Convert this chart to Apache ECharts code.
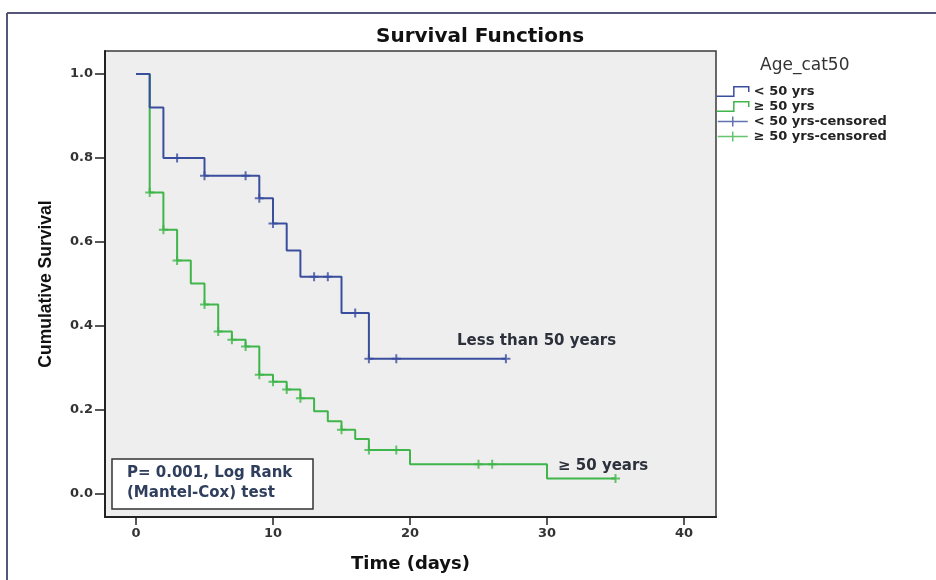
<!DOCTYPE html>
<html>
<head>
<meta charset="utf-8">
<script src="https://cdn.jsdelivr.net/npm/echarts@6/dist/echarts.min.js"></script>
<style>
  html, body { margin: 0; padding: 0; background: #ffffff; }
  #chart { width: 936px; height: 580px; }
</style>
</head>
<body>
<div id="chart"></div>
<script>
// ---------- data ----------
const seriesNames = ['< 50 yrs', '≥ 50 yrs', '< 50 yrs-censored', '≥ 50 yrs-censored'];

// Kaplan-Meier step points: < 50 yrs
const youngTimes = [0, 1, 2, 5, 9, 10, 11, 12, 15, 17, 27];
const youngSurv  = [1.0, 0.92, 0.80, 0.758, 0.704, 0.644, 0.58, 0.517, 0.431, 0.322, 0.322];
const youngCensorTimes = [3, 5, 8, 9, 10, 13, 14, 16, 17, 19, 27];

// Kaplan-Meier step points: >= 50 yrs
const oldTimes = [0, 1, 2, 3, 4, 5, 6, 7, 8, 9, 10, 11, 12, 13, 14, 15, 16, 17, 20, 30, 35];
const oldSurv  = [1.0, 0.718, 0.629, 0.556, 0.501, 0.451, 0.387, 0.367, 0.351, 0.284, 0.267, 0.249, 0.228, 0.197, 0.173, 0.153, 0.131, 0.105, 0.071, 0.037, 0.037];
const oldCensorTimes = [1, 2, 3, 5, 6, 7, 8, 9, 10, 11, 12, 15, 17, 19, 25, 26, 35];

const xTicks = [0, 10, 20, 30, 40];
const yTicks = [0, 0.2, 0.4, 0.6, 0.8, 1.0];

const titleText = 'Survival Functions';
const xName = 'Time (days)';
const yName = 'Cumulative Survival';
const legendTitle = 'Age_cat50';
const youngLabel = 'Less than 50 years';
const oldLabel = '≥ 50 years';
const pLines = ['P= 0.001, Log Rank', '(Mantel-Cox) test'];

// ---------- helpers ----------
function survAt(times, surv, t) {
  let v = surv[0];
  for (let i = 0; i < times.length; i++) { if (times[i] <= t) v = surv[i]; }
  return v;
}
function fontAvailable(family) {
  const c = document.createElement('canvas').getContext('2d');
  c.font = 'bold 100px monospace';
  const w0 = c.measureText(yName).width;
  c.font = 'bold 100px "' + family + '", monospace';
  return Math.abs(c.measureText(yName).width - w0) > 1;
}
let yNameFamily = fontAvailable('Liberation Sans Narrow') ? 'Liberation Sans Narrow' : 'Liberation Sans';
const mctx = document.createElement('canvas').getContext('2d');
mctx.font = 'bold 100px "' + yNameFamily + '"';
const yNameSize = Math.round(165 / (mctx.measureText(yName).width / 100) * 2) / 2;

const BLUE = '#3a4e9e';
const GREEN = '#3fb54a';
const FONT = 'DejaVu Sans';
const plusPath = 'path://M5,0L5,10M0,5L10,5';

const chart = echarts.init(document.getElementById('chart'), null, { renderer: 'canvas' });

const option = {
  animation: false,
  backgroundColor: '#ffffff',
  title: {
    text: titleText,
    left: 376,
    top: 27,
    padding: 0,
    textStyle: { fontFamily: FONT, fontWeight: 'bold', fontSize: 20, color: '#111111' }
  },
  legend: {
    orient: 'vertical',
    left: 711,
    top: 79,
    itemWidth: 32,
    itemHeight: 10,
    itemGap: 0,
    selectedMode: false,
    textStyle: { fontFamily: FONT, fontWeight: 'bold', fontSize: 13, color: '#222222', lineHeight: 15 },
    data: [
      { name: seriesNames[0], icon: 'path://M0,10L16,10L16,1L30,1L30,6', itemStyle: { color: 'rgba(0,0,0,0)', borderColor: BLUE, borderWidth: 1.5 } },
      { name: seriesNames[1], icon: 'path://M0,10L16,10L16,1L30,1L30,6', itemStyle: { color: 'rgba(0,0,0,0)', borderColor: GREEN, borderWidth: 1.5 } },
      { name: seriesNames[2], icon: 'path://M0,5L30,5M15,0L15,10', itemStyle: { color: 'rgba(0,0,0,0)', borderColor: BLUE, borderWidth: 1.5 } },
      { name: seriesNames[3], icon: 'path://M0,5L30,5M15,0L15,10', itemStyle: { color: 'rgba(0,0,0,0)', borderColor: GREEN, borderWidth: 1.5 } }
    ]
  },
  grid: {
    left: 105, right: 220, top: 51, bottom: 63,
    show: true, backgroundColor: '#eeeeee', borderColor: '#3a3a3a', borderWidth: 1.5
  },
  xAxis: {
    type: 'value',
    min: -2.263, max: 42.336,
    name: xName,
    nameLocation: 'middle',
    nameGap: 38,
    nameTextStyle: { fontFamily: FONT, fontWeight: 'bold', fontSize: 18, color: '#111111' },
    axisLine: { show: true, onZero: false, lineStyle: { color: '#222222', width: 2 } },
    axisTick: { show: true, length: 8, customValues: xTicks, lineStyle: { color: '#222222', width: 1.5 } },
    axisLabel: { margin: 10, customValues: xTicks, fontFamily: FONT, fontWeight: 'bold', fontSize: 13, color: '#333333' },
    splitLine: { show: false }
  },
  yAxis: {
    type: 'value',
    min: -0.0548, max: 1.0548,
    name: yName,
    nameLocation: 'middle',
    nameGap: 50,
    nameTextStyle: { fontFamily: yNameFamily, fontWeight: 'bold', fontSize: yNameSize, color: '#111111' },
    axisLine: { show: true, onZero: false, lineStyle: { color: '#222222', width: 2 } },
    axisTick: { show: true, length: 10, customValues: yTicks, lineStyle: { color: '#222222', width: 1.5 } },
    axisLabel: { margin: 12, customValues: yTicks, formatter: v => v.toFixed(1), fontFamily: FONT, fontWeight: 'bold', fontSize: 13, color: '#333333' },
    splitLine: { show: false }
  },
  series: [
    {
      name: seriesNames[0], type: 'line', step: 'end', symbol: 'none', silent: true, z: 3,
      data: youngTimes.map((t, i) => [t, youngSurv[i]]),
      lineStyle: { color: BLUE, width: 2 }, itemStyle: { color: BLUE }
    },
    {
      name: seriesNames[1], type: 'line', step: 'end', symbol: 'none', silent: true, z: 2,
      data: oldTimes.map((t, i) => [t, oldSurv[i]]),
      lineStyle: { color: GREEN, width: 2 }, itemStyle: { color: GREEN }
    },
    {
      name: seriesNames[2], type: 'scatter', symbol: plusPath, symbolSize: 9, silent: true, z: 4,
      data: youngCensorTimes.map(t => [t, survAt(youngTimes, youngSurv, t)]),
      itemStyle: { color: BLUE, borderColor: BLUE, borderWidth: 2 }
    },
    {
      name: seriesNames[3], type: 'scatter', symbol: plusPath, symbolSize: 9, silent: true, z: 4,
      data: oldCensorTimes.map(t => [t, survAt(oldTimes, oldSurv, t)]),
      itemStyle: { color: GREEN, borderColor: GREEN, borderWidth: 2 }
    }
  ],
  graphic: [
    { type: 'line', shape: { x1: 7, y1: 13, x2: 936, y2: 13 }, style: { stroke: '#55557c', lineWidth: 2 }, silent: true },
    { type: 'line', shape: { x1: 7, y1: 13, x2: 7, y2: 580 }, style: { stroke: '#55557c', lineWidth: 2 }, silent: true },
    { type: 'text', x: 760, y: 66, style: { text: legendTitle, font: '17px "DejaVu Sans"', fill: '#333333', verticalAlign: 'middle' }, silent: true },
    { type: 'text', x: 457, y: 341, z: 10, style: { text: youngLabel, font: 'bold 15px "DejaVu Sans"', fill: '#2b303b', verticalAlign: 'middle' }, silent: true },
    { type: 'text', x: 558, y: 466, z: 10, style: { text: oldLabel, font: 'bold 15px "DejaVu Sans"', fill: '#2b303b', verticalAlign: 'middle' }, silent: true },
    { type: 'rect', shape: { x: 112, y: 459, width: 201, height: 50 }, z: 10, style: { fill: '#ffffff', stroke: '#333333', lineWidth: 1.5 }, silent: true },
    { type: 'text', x: 127, y: 473, z: 11, style: { text: pLines[0], font: 'bold 15px "DejaVu Sans"', fill: '#2f3e5c', verticalAlign: 'middle' }, silent: true },
    { type: 'text', x: 127, y: 493, z: 11, style: { text: pLines[1], font: 'bold 15px "DejaVu Sans"', fill: '#2f3e5c', verticalAlign: 'middle' }, silent: true }
  ]
};
chart.setOption(option);
</script>
</body>
</html>
